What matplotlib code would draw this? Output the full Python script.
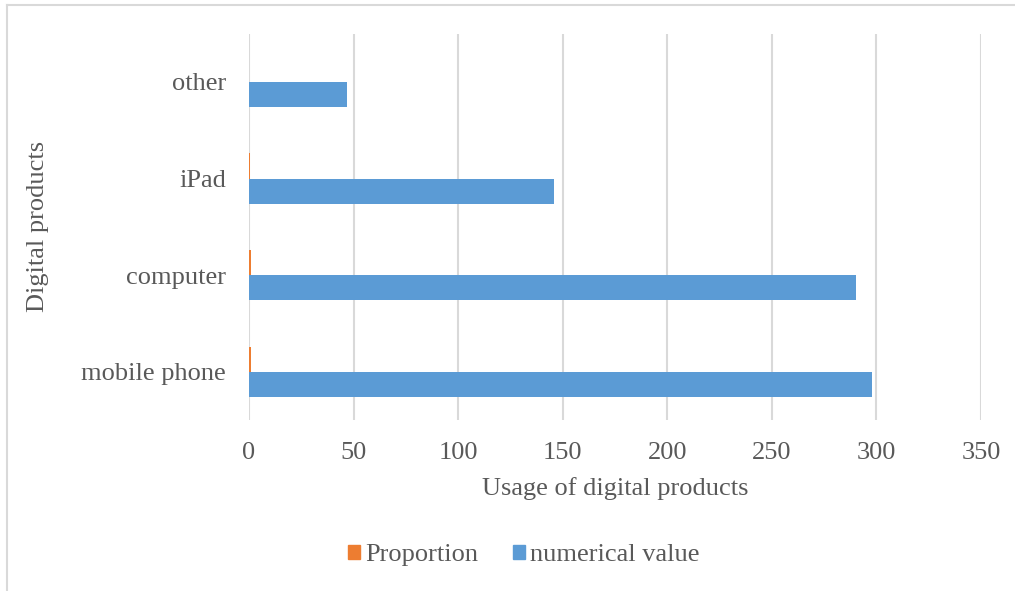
import matplotlib
matplotlib.use("Agg")
import matplotlib.pyplot as plt
from matplotlib.lines import Line2D
from matplotlib.patches import Patch
import numpy as np

categories = ["mobile phone", "computer", "iPad", "other"]
proportion = [0.89, 0.87, 0.44, 0.14]
numerical_value = [298, 290, 146, 47]
x_ticks = [0, 50, 100, 150, 200, 250, 300, 350]

plt.rcParams['font.family'] = ['Liberation Serif', 'DejaVu Serif']
txt = '#595959'
grid = '#d9d9d9'
fs = 19

fig = plt.figure(figsize=(10.15, 5.91), dpi=100)
ax = fig.add_axes([249/1015, 1-420/591, (981-249)/1015, (420-33.7)/591])

y = np.arange(len(categories))
h = 0.26
ax.barh(y + h/2, proportion, height=h, color='#ED7D31', label='Proportion', zorder=3)
ax.barh(y - h/2, numerical_value, height=h, color='#5B9BD5', label='numerical value', zorder=3)

ax.set_xlim(0, 350)
ax.set_ylim(-0.5, len(categories) - 0.5)
ax.set_xticks(x_ticks)
ax.set_xticklabels([str(v) for v in x_ticks])
ax.set_yticks(y)
ax.set_yticklabels(categories)
ax.grid(axis='x', color=grid, linewidth=1.5, zorder=0)
for s in ax.spines.values():
    s.set_visible(False)
ax.tick_params(axis='both', length=0, labelsize=fs, labelcolor=txt)
ax.tick_params(axis='x', pad=15.5)
ax.tick_params(axis='y', pad=16.5)
ax.set_xlabel('Usage of digital products', fontsize=fs, color=txt, labelpad=10)
ax.set_ylabel('Digital products', fontsize=fs, color=txt, labelpad=23)

handles = [Patch(color='#ED7D31'), Patch(color='#5B9BD5')]
fig.legend(handles, ['Proportion', 'numerical value'], loc='center', bbox_to_anchor=(524/1015, 1-555/591),
           ncol=2, frameon=False, fontsize=fs, labelcolor=txt, handlelength=0.45, handleheight=0.45,
           handletextpad=0.2, columnspacing=1.3)

fig.add_artist(Line2D([7/1015, 1], [1-5/591, 1-5/591], color=grid, linewidth=1.5, transform=fig.transFigure))
fig.add_artist(Line2D([7/1015, 7/1015], [0, 1-5/591], color=grid, linewidth=1.5, transform=fig.transFigure))

fig.savefig('out.png', dpi=100, facecolor='white')
